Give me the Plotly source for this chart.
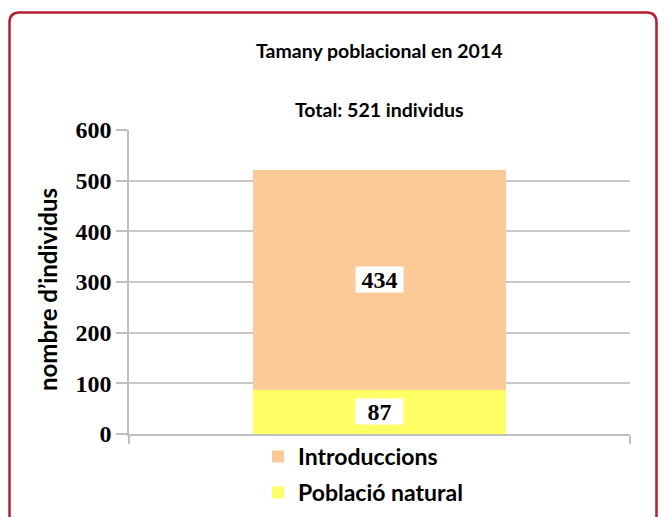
import plotly.graph_objects as go

categories = ["2014"]
series_names = ["Població natural", "Introduccions"]
poblacio_natural = [87]
introduccions = [434]
colors = ["#ffff66", "#fdc997"]
legend_ranks = [2, 1]
title_text = "Tamany poblacional en 2014"
subtitle_text = "Total: 521 individus"
y_title = "nombre d’individus"
y_ticks = [0, 100, 200, 300, 400, 500, 600]

# page has an 8px body margin: figure origin sits at page (8, 8)
OFF = 8
W, H = 667 - OFF, 517 - OFF
L, T = 129 - OFF, 130 - OFF
R = W - (630 - OFF)
B = H - (434 - OFF)
pw, ph = W - L - R, H - T - B

def px_x(p):  # page pixel -> paper x
    return (p - OFF - L) / pw

def px_y(p):  # page pixel -> paper y
    return (H - B - (p - OFF)) / ph

fig = go.Figure()
for name, vals, col, rank in zip(series_names, [poblacio_natural, introduccions], colors, legend_ranks):
    fig.add_trace(go.Bar(x=categories, y=vals, name=name, legendgroup=name, legendrank=rank,
                         marker=dict(color=col, line=dict(width=0)), width=0.505))

# data labels in white boxes
bases = [0] * len(categories)
for vals in [poblacio_natural, introduccions]:
    for i in range(len(categories)):
        fig.add_annotation(x=i, y=bases[i] + vals[i] / 2, xref="x", yref="y",
                           text=f"<b>{vals[i]}</b>", showarrow=False,
                           bgcolor="white", width=47, height=25, align="center", valign="middle",
                           font=dict(family="Liberation Serif", size=24, color="black"), borderpad=0)
        bases[i] += vals[i]

# titles
fig.add_annotation(xref="paper", yref="paper", x=px_x(379), y=px_y(50), yanchor="middle",
                   text=f"<b>{title_text}</b>", showarrow=False,
                   font=dict(family="Lato", size=19.5, color="black"))
fig.add_annotation(xref="paper", yref="paper", x=px_x(379), y=px_y(110), yanchor="middle",
                   text=f"<b>{subtitle_text}</b>", showarrow=False,
                   font=dict(family="Lato", size=19.5, color="black"))

# y-axis title
fig.add_annotation(xref="paper", yref="paper", x=px_x(47), y=px_y(290), xanchor="center",
                   yanchor="middle", textangle=-90, text=f"<b>{y_title}</b>", showarrow=False,
                   font=dict(family="Lato", size=24, color="black"))

# red rounded border
x0, x1, y0, y1, r = px_x(9.5), px_x(656.5), px_y(12.5), px_y(540), 10
rx, ry = r / pw, r / ph
path = (f"M {x0+rx},{y0} L {x1-rx},{y0} Q {x1},{y0} {x1},{y0-ry} L {x1},{y1} "
        f"L {x0},{y1} L {x0},{y0-ry} Q {x0},{y0} {x0+rx},{y0} Z")
fig.add_shape(type="path", xref="paper", yref="paper", path=path,
              line=dict(color="#b41f2f", width=2.5), fillcolor="rgba(0,0,0,0)")

fig.update_layout(
    width=W, height=H, margin=dict(l=L, r=R, t=T, b=B, autoexpand=False),
    barmode="stack", plot_bgcolor="white", paper_bgcolor="white",
    showlegend=True,
    legend=dict(orientation="v", x=px_x(258), y=px_y(435), xanchor="left", yanchor="top",
                traceorder="grouped", tracegroupgap=3,
                font=dict(family="Lato", size=23, color="black", weight="bold"),
                bgcolor="rgba(0,0,0,0)"),
    yaxis=dict(range=[0, 600], tickvals=y_ticks, showgrid=True, gridcolor="#c8c8c8", gridwidth=1.5,
               ticks="outside", ticklen=11, tickcolor="#c0c0c0", tickwidth=1.5,
               showline=True, linecolor="#c0c0c0", linewidth=1.5, automargin=False,
               tickfont=dict(family="Liberation Serif", size=24, color="black", weight="bold"),
               zeroline=False),
    xaxis=dict(type="category", range=[-0.5, 0.5], autorange=False, showticklabels=False,
               showline=True, linecolor="#c0c0c0", linewidth=1.5,
               ticks="outside", tickson="boundaries", ticklen=8, tickcolor="#c0c0c0", tickwidth=1.5,
               showgrid=False, automargin=False),
)

fig.write_html("out.html")
